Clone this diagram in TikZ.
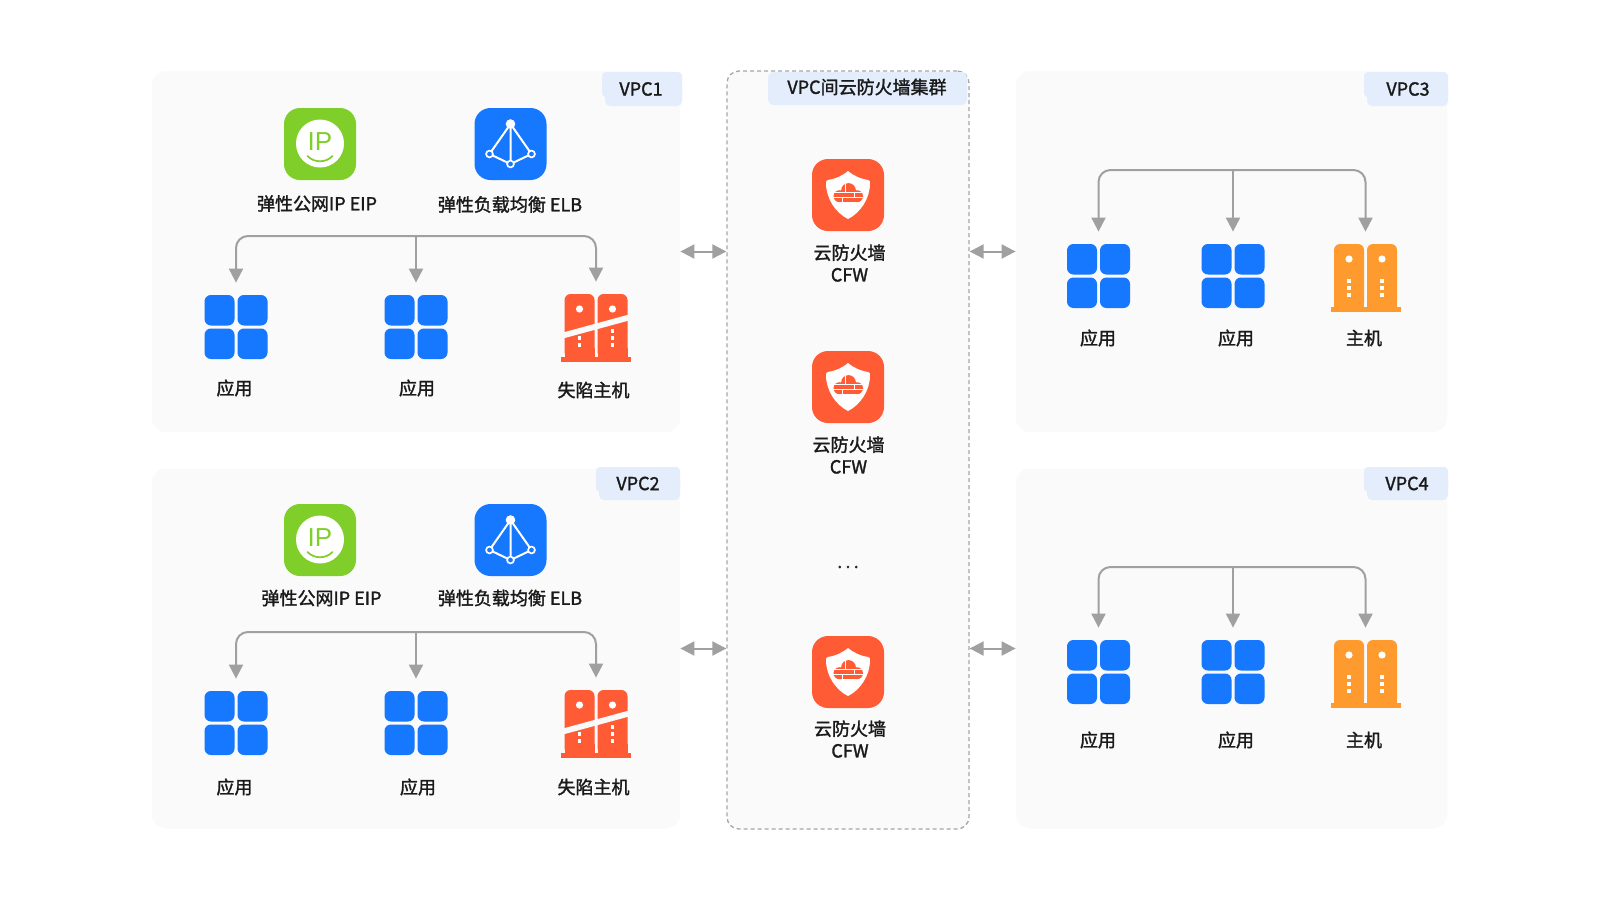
\documentclass[tikz,border=0pt]{standalone}
\usepackage{fontspec}
\usetikzlibrary{arrows.meta}
\newfontfamily\labfont[FakeBold=1.6]{Noto Sans CJK SC}
\newfontfamily\ipfont{Liberation Sans}
\definecolor{panelbg}{HTML}{FAFAFA}
\definecolor{tagbg}{HTML}{E3EDFB}
\definecolor{linegray}{HTML}{A0A0A0}
\definecolor{dashgray}{HTML}{A6A6A6}
\definecolor{iblue}{HTML}{1677FF}
\definecolor{igreen}{HTML}{7FCE29}
\definecolor{ired}{HTML}{FF5C36}
\definecolor{iorange}{HTML}{FF9A2E}
\definecolor{inktext}{HTML}{1A1A1A}
\tikzset{
  panel/.style={rectangle,rounded corners=7pt,fill=panelbg,inner sep=0pt},
  fwpanel/.style={rectangle,rounded corners=6pt,fill=panelbg,draw=dashgray,line width=0.65pt,dash pattern=on 2pt off 1.5pt,inner sep=0pt},
  square/.style={rectangle,rounded corners=8pt,minimum size=36pt,inner sep=0pt},
  iconbox/.style={rectangle,minimum width=31.5pt,minimum height=32pt,inner sep=0pt},
  hostbox/.style={rectangle,minimum width=31.5pt,minimum height=34pt,inner sep=0pt},
  lab/.style={font=\labfont\fontsize{9}{11}\selectfont,text=inktext,inner sep=0pt,align=center},
  conn/.style={draw=linegray,line width=1pt,rounded corners=6pt,-{Triangle[width=7pt,length=7pt,fill=linegray]},shorten >=6pt},
  conndirect/.style={draw=linegray,line width=1pt,-{Triangle[width=7pt,length=7pt,fill=linegray]},shorten >=6pt},
  biarrow/.style={draw=linegray,line width=1pt,{Triangle[width=7pt,length=7pt,fill=linegray]}-{Triangle[width=7pt,length=7pt,fill=linegray]}},
}
\newcommand\appicon[3]{%
  \node[iconbox] (#1) at (#2,#3) {};
  \begin{scope}[shift={(#2,#3)}]
    \fill[iblue,rounded corners=3.2pt] (-31.5,-32) rectangle (-1.5,-1.5);
    \fill[iblue,rounded corners=3.2pt] (1.5,-32) rectangle (31.5,-1.5);
    \fill[iblue,rounded corners=3.2pt] (-31.5,1.5) rectangle (-1.5,32);
    \fill[iblue,rounded corners=3.2pt] (1.5,1.5) rectangle (31.5,32);
  \end{scope}}
\newcommand\hostbody[1]{%
    \fill[#1,rounded corners=3pt] (-31.5,30) -- (-31.5,-34) -- (-1.5,-34) -- (-1.5,30) -- cycle;
    \fill[#1,rounded corners=3pt] (1.5,30) -- (1.5,-34) -- (31.5,-34) -- (31.5,30) -- cycle;
    \fill[#1] (-31.5,20) rectangle (-1.5,30);
    \fill[#1] (1.5,20) rectangle (31.5,30);
    \fill[#1] (-35,29) rectangle (35,34);
    \fill[white] (-16.5,-19) circle (1.8pt);
    \fill[white] (16.5,-19) circle (1.8pt);
    \foreach \dx in {-16.5,16.5}{\foreach \dy in {3,10,17}{
      \fill[white] (\dx-1.7,\dy-1.7) rectangle (\dx+1.7,\dy+1.7);}}}
\newcommand\hosticon[3]{%
  \node[hostbox] (#1) at (#2,#3) {};
  \begin{scope}[shift={(#2,#3)}]\hostbody{iorange}\end{scope}}
\newcommand\badhost[3]{%
  \node[hostbox] (#1) at (#2,#3) {};
  \begin{scope}[shift={(#2,#3)}]\hostbody{ired}
    \fill[panelbg] (-33,4.5) -- (33,-13.5) -- (33,-7.5) -- (-33,10.5) -- cycle;
  \end{scope}}
\newcommand\eipicon[3]{%
  \node[square,fill=igreen] (#1) at (#2,#3) {};
  \begin{scope}[shift={(#2,#3)}]
    \fill[white] (0,-0.5) circle (12pt);
    \node[font=\ipfont\fontsize{13}{13}\selectfont,text=igreen,inner sep=0pt] (#1t) at (0,-2) {IP};
    \draw[igreen,line width=0.85pt,line cap=round] (-12.5,12) .. controls (-6,19) and (6,19) .. (12.5,12);
  \end{scope}}
\newcommand\elbicon[3]{%
  \node[square,fill=iblue] (#1) at (#2,#3) {};
  \begin{scope}[shift={(#2,#3)}]
    \draw[white,line width=1pt] (0,-20) -- (-21,10) -- (0,20) -- (21,10) -- cycle (0,-20) -- (0,20);
    \fill[white] (0,-20) circle (2.4pt);
    \foreach \p in {(-21,10),(21,10),(0,20)}{\filldraw[fill=iblue,draw=white,line width=0.85pt] \p circle (1.7pt);}
  \end{scope}}
\newcommand\cfwicon[3]{%
  \node[square,fill=ired] (#1) at (#2,#3) {};
  \begin{scope}[shift={(#2,#3)}]
    \fill[white] (0,-24) .. controls (-6,-19) and (-13,-16) .. (-20,-15)
       .. controls (-21.5,-14.8) and (-22.2,-14) .. (-22,-12)
       .. controls (-22,4) and (-12,18) .. (0,24)
       .. controls (12,18) and (22,4) .. (22,-12)
       .. controls (22.2,-14) and (21.5,-14.8) .. (20,-15)
       .. controls (13,-16) and (6,-19) .. (0,-24) -- cycle;
    \fill[ired] (0.5,-4.5) circle (3.7pt);
    \fill[ired] (-8.5,1.2) circle (3pt);
    \fill[ired] (9,1.2) circle (3pt);
    \fill[ired] (-8.5,-3) rectangle (9,7.2);
    \draw[white,line width=0.3pt] (-15,-3) -- (15,-3) (-15,2.5) -- (15,2.5)
       (-2.5,-12) -- (-2.5,-3) (6,-3) -- (6,2.5) (-6,2.5) -- (-6,7.5);
  \end{scope}}
\newcommand\vpctag[6]{%
  \fill[tagbg,rounded corners=2pt] (#2,#3) rectangle (#4,#3+25);
  \fill[tagbg,rounded corners=2.5pt] (#2+3,#3+8) rectangle (#4,#5);
  \node[lab] (#1) at (#6,#3/2+#5/2) {VPC#1};}
\begin{document}
\begin{tikzpicture}[x=0.5pt,y=-0.5pt]
\useasboundingbox (0,0) rectangle (1600,900);
\fill[white] (0,0) rectangle (1600,900);
% panels
\node[panel,minimum width=264pt,minimum height=180.5pt] (p1) at (416,251.5) {};
\node[panel,minimum width=264pt,minimum height=180pt] (p2) at (416,648.5) {};
\node[panel,minimum width=215.5pt,minimum height=180.5pt] (p3) at (1231.5,251.5) {};
\node[panel,minimum width=215.5pt,minimum height=180pt] (p4) at (1231.5,648.5) {};
\node[fwpanel,minimum width=121pt,minimum height=379pt] (fw) at (848,450) {};
% tags
\vpctag{1}{602}{72}{682}{106}{641}
\vpctag{2}{596}{467}{680}{500}{638}
\vpctag{3}{1364}{72}{1448}{106}{1408}
\vpctag{4}{1364}{467}{1448}{500}{1407}
\fill[tagbg,rounded corners=3pt] (768,72) rectangle (967,105);
\node[lab] (fwt) at (867,87) {VPC间云防火墙集群};
% VPC1
\eipicon{e1}{320}{144}
\elbicon{l1}{510.5}{144}
\node[lab] (e1l) at (317,203.5) {弹性公网IP EIP};
\node[lab] (l1l) at (510,204.5) {弹性负载均衡 ELB};
\coordinate (h1) at (416,236);
\appicon{a11}{236}{327}
\appicon{a12}{416}{327}
\badhost{a13}{596}{328}
\node[lab] (a11l) at (234.5,388) {应用};
\node[lab] (a12l) at (417,388) {应用};
\node[lab] (a13l) at (593.5,390) {失陷主机};
\draw[conn] (h1) -| (a11);
\draw[conndirect] (h1) -- (a12);
\draw[conn] (h1) -| (a13);
% VPC2
\eipicon{e2}{320}{540}
\elbicon{l2}{510.5}{540}
\node[lab] (e2l) at (321.5,598) {弹性公网IP EIP};
\node[lab] (l2l) at (510,598) {弹性负载均衡 ELB};
\coordinate (h2) at (416,632);
\appicon{a21}{236}{723}
\appicon{a22}{416}{723}
\badhost{a23}{596}{724}
\node[lab] (a21l) at (234.5,787) {应用};
\node[lab] (a22l) at (418,787) {应用};
\node[lab] (a23l) at (593.5,787) {失陷主机};
\draw[conn] (h2) -| (a21);
\draw[conndirect] (h2) -- (a22);
\draw[conn] (h2) -| (a23);
% VPC3
\coordinate (h3) at (1233,170);
\appicon{a31}{1098.5}{276}
\appicon{a32}{1233}{276}
\hosticon{a33}{1365.5}{278}
\node[lab] (a31l) at (1098,338) {应用};
\node[lab] (a32l) at (1236,338) {应用};
\node[lab] (a33l) at (1364,338) {主机};
\draw[conn] (h3) -| (a31);
\draw[conndirect] (h3) -- (a32);
\draw[conn] (h3) -| (a33);
% VPC4
\coordinate (h4) at (1233,567);
\appicon{a41}{1098.5}{672}
\appicon{a42}{1233}{672}
\hosticon{a43}{1365.5}{674}
\node[lab] (a41l) at (1098,740) {应用};
\node[lab] (a42l) at (1236,740) {应用};
\node[lab] (a43l) at (1364,740) {主机};
\draw[conn] (h4) -| (a41);
\draw[conndirect] (h4) -- (a42);
\draw[conn] (h4) -| (a43);
% firewall column
\cfwicon{c1}{848}{195}
\node[lab] (c1l) at (849.5,263) {云防火墙\\CFW};
\cfwicon{c2}{848}{387}
\node[lab] (c2l) at (848.5,455) {云防火墙\\CFW};
\node[lab] (dots) at (848,567) {.\kern1.6pt.\kern1.6pt.};
\cfwicon{c3}{848}{672}
\node[lab] (c3l) at (850,739) {云防火墙\\CFW};
% links
\draw[biarrow] (p1.east) -- (p1.east -| fw.west);
\draw[biarrow] (p2.east) -- (p2.east -| fw.west);
\draw[biarrow] (fw.east |- p3.west) -- (p3.west);
\draw[biarrow] (fw.east |- p4.west) -- (p4.west);
\end{tikzpicture}
\end{document}
